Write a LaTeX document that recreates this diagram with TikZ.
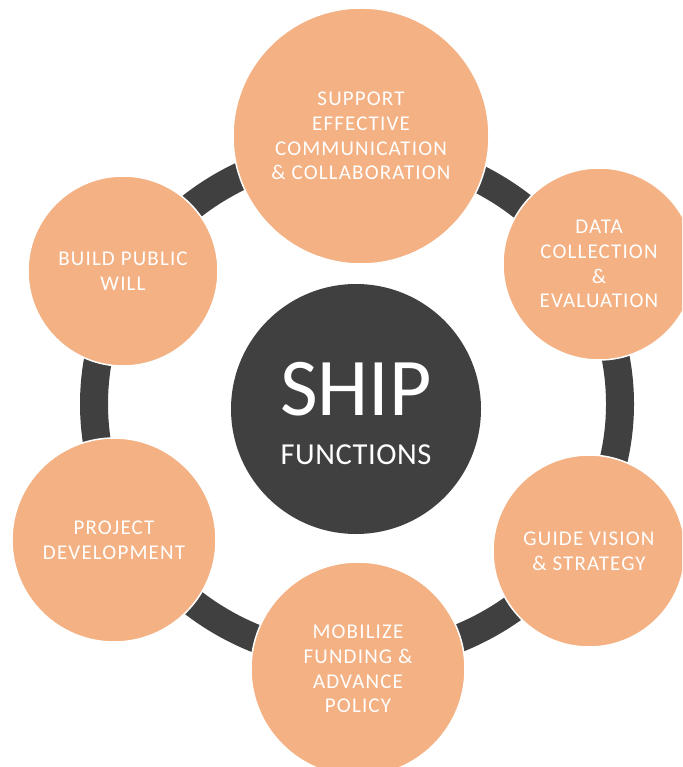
\documentclass[tikz,border=0pt]{standalone}
\usepackage{fontspec}
\setmainfont{Carlito}
\newfontfamily\bubblefont[LetterSpace=5.5]{Carlito}
\newfontfamily\hubfont[LetterSpace=2]{Carlito}
\usepackage{xcolor}
\usepackage{tikz}
\definecolor{peach}{RGB}{244,177,131}
\definecolor{charcoal}{RGB}{64,64,64}

\begin{document}
\begin{tikzpicture}[x=1pt, y=-1pt]
    \tikzstyle{bubble} = [circle, inner sep=0pt, draw=white, line width=1.5pt, fill=peach, text=white, align=center, font=\bubblefont\fontsize{21}{24.7}\selectfont]
    \tikzstyle{hub} = [circle, inner sep=0pt, fill=charcoal, minimum size=250pt]
    \tikzstyle{ring} = [draw=charcoal, line width=28pt]
    \clip (0,0) rectangle (682,767);
    \draw [ring] (357,404) ellipse [x radius=263, y radius=254];

    \node (support) [bubble, minimum size=256pt] at (361,136) {SUPPORT\\EFFECTIVE\\COMMUNICATION\\\& COLLABORATION};
    \node (data) [bubble, minimum size=192pt] at (599,264) {DATA\\COLLECTION\\\&\\EVALUATION};
    \node (guide) [bubble, minimum size=192pt] at (589,551) {GUIDE VISION\\\& STRATEGY};
    \node (mobilize) [bubble, minimum size=214pt] at (358,669) {MOBILIZE\\FUNDING \&\\ADVANCE\\POLICY};
    \node (project) [bubble, minimum size=204pt] at (114,540) {PROJECT\\DEVELOPMENT};
    \node (build) [bubble, minimum size=190pt] at (123,271) {BUILD PUBLIC\\WILL};

    \node (ship) [hub] at (356,409) {};
    \node (shiptitle) [anchor=base, text=white, font=\fontsize{82}{82}\selectfont] at ([yshift=-6pt]ship.center) {SHIP};
    \node (shipsub) [anchor=base, text=white, font=\hubfont\fontsize{30.5}{30.5}\selectfont] at ([yshift=-55pt]ship.center) {FUNCTIONS};
\end{tikzpicture}
\end{document}
